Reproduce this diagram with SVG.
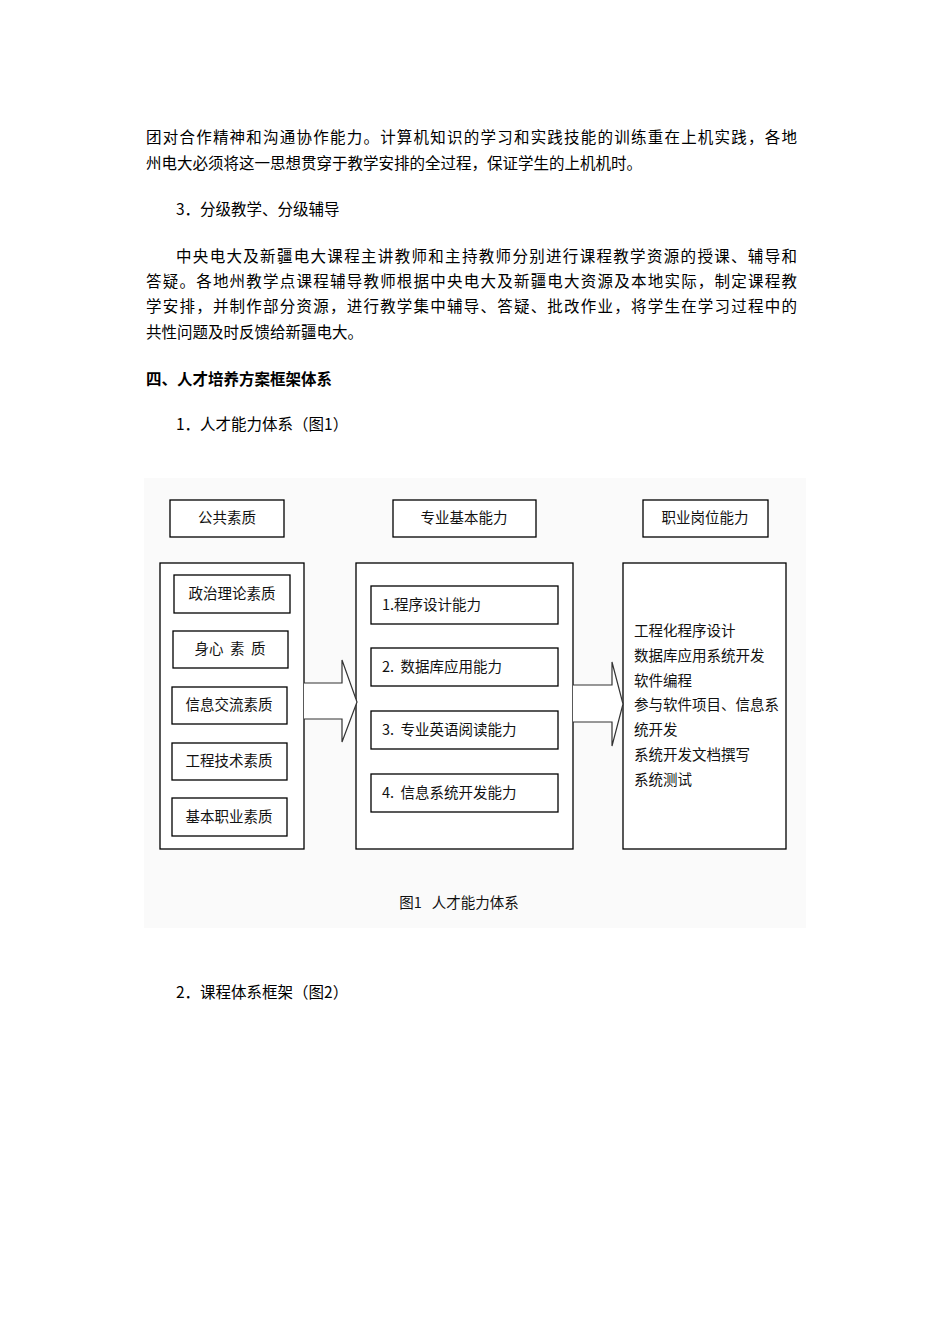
<svg xmlns="http://www.w3.org/2000/svg" width="950" height="1344" viewBox="0 0 950 1344">
<style>
.t{font-family:"Noto Sans CJK SC","Noto Sans",sans-serif;font-size:15.5px;fill:#000}
.b{fill:#fff;stroke:#000;stroke-width:1.3}
.n{font-family:"Noto Sans CJK SC","Noto Sans",sans-serif;font-size:14.5px;fill:#111}
.c{text-anchor:middle}
</style>
<rect width="950" height="1344" fill="#fff"/>
<g id="text">
<text class="t" x="146" y="143" textLength="651" lengthAdjust="spacing">团对合作精神和沟通协作能力。计算机知识的学习和实践技能的训练重在上机实践，各地</text>
<text class="t" x="146" y="169">州电大必须将这一思想贯穿于教学安排的全过程，保证学生的上机机时。</text>
<text class="t" x="176" y="215" xml:space="preserve">3．分级教学、分级辅导</text>
<text class="t" x="176" y="262" textLength="621" lengthAdjust="spacing">中央电大及新疆电大课程主讲教师和主持教师分别进行课程教学资源的授课、辅导和</text>
<text class="t" x="146" y="287" textLength="651" lengthAdjust="spacing">答疑。各地州教学点课程辅导教师根据中央电大及新疆电大资源及本地实际，制定课程教</text>
<text class="t" x="146" y="312" textLength="651" lengthAdjust="spacing">学安排，并制作部分资源，进行教学集中辅导、答疑、批改作业，将学生在学习过程中的</text>
<text class="t" x="146" y="338">共性问题及时反馈给新疆电大。</text>
<text class="t" x="146" y="385" font-weight="bold">四、人才培养方案框架体系</text>
<text class="t" x="176" y="430">1．人才能力体系（图1）</text>
<text class="t" x="176" y="998">2．课程体系框架（图2）</text>
</g>
<rect x="144" y="478" width="662" height="450" fill="#fafafa"/>
<g id="h1"><rect class="b" x="170" y="500" width="114" height="37"/><text class="n c" x="227" y="523">公共素质</text></g>
<g id="h2"><rect class="b" x="393" y="500" width="143" height="37"/><text class="n c" x="464" y="523">专业基本能力</text></g>
<g id="h3"><rect class="b" x="643" y="500" width="125" height="37"/><text class="n c" x="705" y="523">职业岗位能力</text></g>
<g id="left"><rect class="b" x="160" y="563" width="144" height="286"/>
<rect class="b" x="174" y="575" width="116" height="38"/><text class="n c" x="232" y="599">政治理论素质</text>
<rect class="b" x="173" y="631" width="115" height="37"/><text class="n c" x="230" y="654" xml:space="preserve">身心  素  质</text>
<rect class="b" x="172" y="687" width="115" height="37"/><text class="n c" x="229" y="710">信息交流素质</text>
<rect class="b" x="172" y="743" width="115" height="37"/><text class="n c" x="229" y="766">工程技术素质</text>
<rect class="b" x="172" y="798" width="115" height="38"/><text class="n c" x="229" y="822">基本职业素质</text></g>
<g id="mid"><rect class="b" x="356" y="563" width="217" height="286"/>
<rect class="b" x="371" y="586" width="187" height="38"/><text class="n" x="382" y="610">1.程序设计能力</text>
<rect class="b" x="371" y="648" width="187" height="38"/><text class="n" x="382" y="672" xml:space="preserve">2.  数据库应用能力</text>
<rect class="b" x="371" y="711" width="187" height="38"/><text class="n" x="382" y="735" xml:space="preserve">3.  专业英语阅读能力</text>
<rect class="b" x="371" y="774" width="187" height="38"/><text class="n" x="382" y="798" xml:space="preserve">4.  信息系统开发能力</text></g>
<g id="right"><rect class="b" x="623" y="563" width="163" height="286"/>
<text class="n" x="634" y="636">工程化程序设计</text>
<text class="n" x="634" y="661">数据库应用系统开发</text>
<text class="n" x="634" y="686">软件编程</text>
<text class="n" x="634" y="710">参与软件项目、信息系</text>
<text class="n" x="634" y="735">统开发</text>
<text class="n" x="634" y="760">系统开发文档撰写</text>
<text class="n" x="634" y="785">系统测试</text></g>
<g id="connectors" fill="#fff" stroke="#333" stroke-width="1.2">
<path d="M304,683 H342 V660 L357,702 L342,742 V719 H304"/>
<path d="M573,685 H612 V662 L623,704 L612,746 V722 H573"/>
</g>
<text class="n c" x="459" y="908" font-size="14" xml:space="preserve">图1   人才能力体系</text>
</svg>
